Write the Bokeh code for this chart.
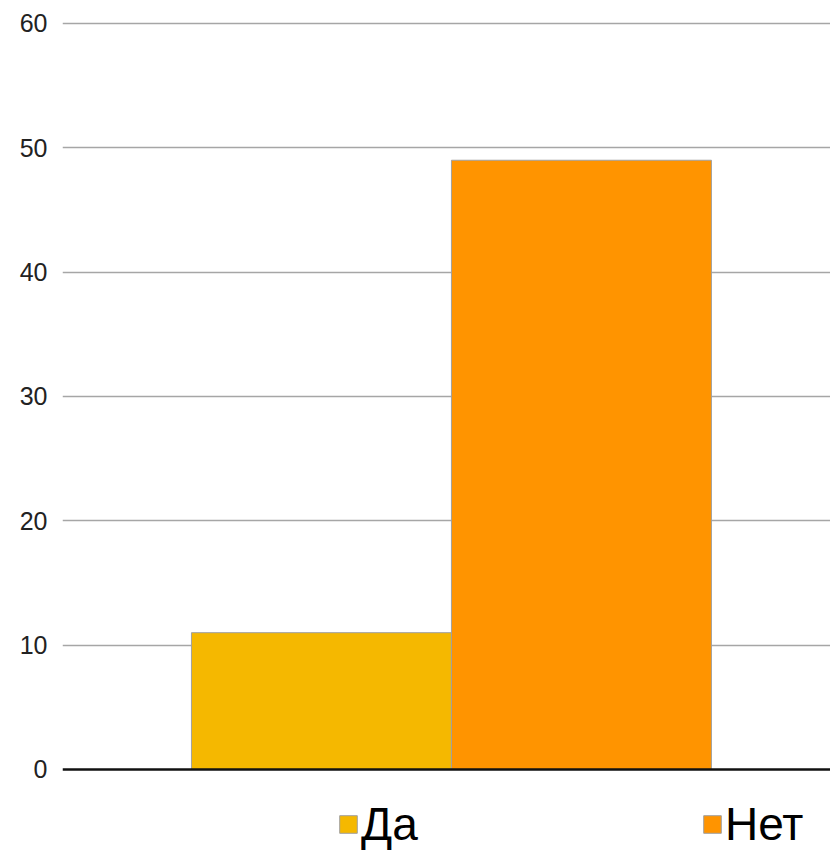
from bokeh.plotting import figure
from bokeh.models import Range1d, Legend, LegendItem, Span, FixedTicker
from bokeh.embed import file_html
from bokeh.resources import INLINE

categories = ["Да", "Нет"]
values = [11, 49]
colors = ["#F5B800", "#FF9400"]
y_ticks = [0, 10, 20, 30, 40, 50, 60]

p = figure(width=830, height=851, output_backend="svg", toolbar_location=None,
           x_range=Range1d(-0.996, 1.958), y_range=Range1d(-6.6, 60.24),
           min_border_left=62, min_border_right=0, min_border_top=20, min_border_bottom=0)
p.outline_line_color = None
p.xaxis.visible = False
p.yaxis.ticker = FixedTicker(ticks=y_ticks)
p.yaxis.axis_line_color = None
p.yaxis.major_tick_line_color = None
p.yaxis.minor_tick_line_color = None
p.yaxis.major_tick_out = 0
p.yaxis.major_tick_in = 0
p.yaxis.major_label_standoff = 15
p.yaxis.major_label_text_font = "Liberation Sans"
p.yaxis.major_label_text_font_size = "25px"
p.yaxis.major_label_text_color = "#222222"
p.xgrid.visible = False
p.ygrid.ticker = FixedTicker(ticks=y_ticks[1:])
p.ygrid.grid_line_color = "#a6a6a6"
p.ygrid.grid_line_width = 1.5

renderers = []
for i in range(len(categories)):
    r = p.vbar(x=[i], top=[values[i]], width=1.0, bottom=0, fill_color=colors[i],
               line_color="#a0a0a0", line_width=1)
    renderers.append(r)

p.add_layout(Span(location=0, dimension="width", line_color="#111111", line_width=2.5))

legend = Legend(items=[LegendItem(label=categories[i], renderers=[renderers[i]]) for i in range(len(categories))],
                orientation="horizontal", location=(275, -3),
                glyph_width=22, glyph_height=22, label_standoff=2, label_width=100, spacing=240,
                padding=0, margin=0, border_line_alpha=0, background_fill_alpha=0,
                label_text_font="Liberation Sans", label_text_font_size="46px",
                label_text_color="#000000", label_height=60)
p.add_layout(legend, "center")

open("out.html", "w").write(file_html(p, INLINE))
